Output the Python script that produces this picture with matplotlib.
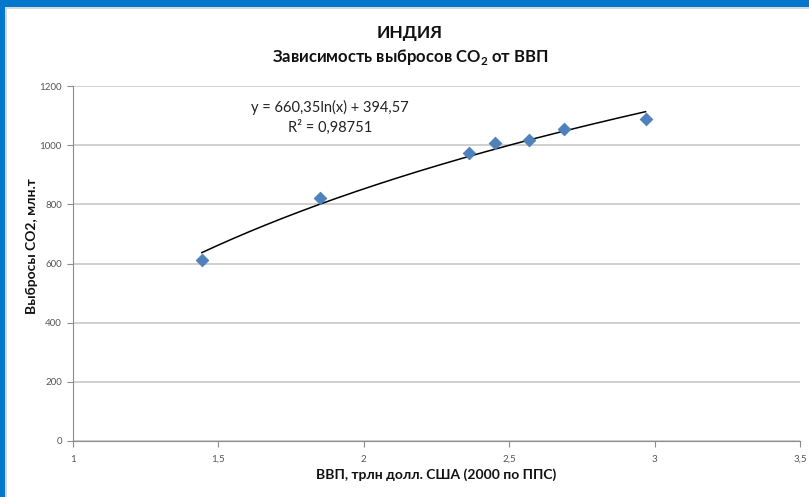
import matplotlib
matplotlib.use("Agg")
import matplotlib.pyplot as plt
import numpy as np
from matplotlib.patches import Rectangle
from matplotlib.ticker import FuncFormatter

# Data
gdp = [1.443, 1.849, 2.361, 2.450, 2.567, 2.687, 2.969]
co2 = [613, 822, 974, 1006, 1016, 1053, 1088]
trend_a = 660.35
trend_b = 394.57
r2_text = "0,98751"
x_ticks = [1, 1.5, 2, 2.5, 3, 3.5]
y_ticks = [0, 200, 400, 600, 800, 1000, 1200]

plt.rcParams['font.family'] = ['Lato', 'DejaVu Sans']

fig = plt.figure(figsize=(8.09, 4.97), dpi=100)
fig.patch.set_facecolor('white')

# blue frame (top and left)
W, H = 809, 497
fig.patches.append(Rectangle((0, 1 - 7 / H), 1, 7 / H, transform=fig.transFigure,
                             facecolor='#0077CC', edgecolor='none', zorder=0))
fig.patches.append(Rectangle((0, 0), 5 / W, 1, transform=fig.transFigure,
                             facecolor='#0077CC', edgecolor='none', zorder=0))
fig.patches.append(Rectangle((5 / W, 1 - 9 / H), 1, 2 / H, transform=fig.transFigure,
                             facecolor='#D8D8D8', edgecolor='none', zorder=0))
fig.patches.append(Rectangle((5 / W, 0), 2 / W, 1 - 7 / H, transform=fig.transFigure,
                             facecolor='#D8D8D8', edgecolor='none', zorder=0))

ax = fig.add_axes([73 / W, 1 - 441 / H, (800 - 73) / W, (441 - 86) / H])
ax.set_xlim(1, 3.5)
ax.set_ylim(0, 1200)
ax.set_xticks(x_ticks)
ax.set_yticks(y_ticks)

fmt = FuncFormatter(lambda v, p: ('%g' % v).replace('.', ','))
ax.xaxis.set_major_formatter(fmt)

for s in ['top', 'right']:
    ax.spines[s].set_visible(False)
for s in ['left', 'bottom']:
    ax.spines[s].set_color('#8C8C8C')
    ax.spines[s].set_linewidth(0.8)

ax.tick_params(axis='both', direction='out', length=4, width=0.8, color='#8C8C8C',
               labelsize=7, labelcolor='#555555')
ax.tick_params(axis='x', pad=6)
ax.tick_params(axis='y', pad=4)

ax.yaxis.grid(True, color='#C8C8C8', linewidth=1.2)
ax.set_axisbelow(True)

# trendline from the displayed equation
xs = np.linspace(min(gdp), max(gdp), 200)
ax.plot(xs, trend_a * np.log(xs) + trend_b, color='black', linewidth=1.1, zorder=3)

ax.scatter(gdp, co2, marker='D', s=42, color='#4F81BD', edgecolor='#4A7AB5',
           linewidth=0.5, zorder=4)

fig.text(330 / W, 1 - 107 / H, "y = 660,35ln(x) + 394,57", ha='center', va='center',
         fontsize=10.5, color='#222222')
fig.text(330 / W, 1 - 127 / H, "R² = " + r2_text, ha='center', va='center',
         fontsize=10.5, color='#222222')

fig.text(410 / W, 1 - 33 / H, "ИНДИЯ", ha='center', va='center', fontsize=12.5,
         fontweight='bold', color='#111111')
fig.text(410 / W, 1 - 57 / H, r"Зависимость выбросов CO$_\mathregular{2}$ от ВВП",
         ha='center', va='center', fontsize=12, fontweight='bold', color='#111111')

ax.set_xlabel("ВВП, трлн долл. США (2000 по ППС)", fontsize=10, fontweight='bold',
              color='#111111', va='center')
ax.xaxis.set_label_coords(0.5, -(475 - 441) / 355)
ax.set_ylabel("Выбросы CO2, млн.т", fontsize=10, fontweight='bold', color='#111111',
              va='center')
ax.yaxis.set_label_coords(-(73 - 32) / 727, 0.55)

fig.savefig("out.png", dpi=100, facecolor='white')
